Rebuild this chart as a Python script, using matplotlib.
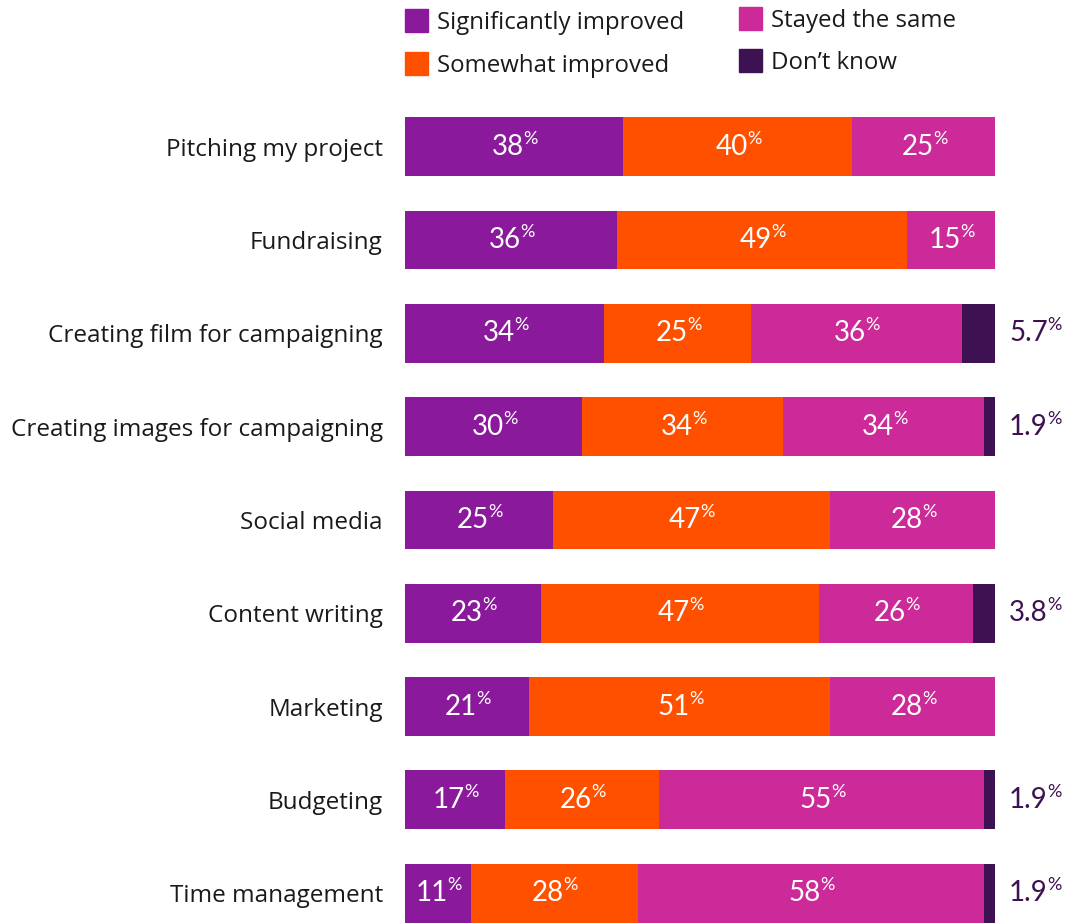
import numpy as np
import matplotlib
matplotlib.use("Agg")
import matplotlib.pyplot as plt
from matplotlib.patches import Rectangle

plt.rcParams['font.family'] = ['Lato', 'DejaVu Sans']
label_font = ['Open Sans', 'DejaVu Sans']

# data, top to bottom
categories = ["Pitching my project", "Fundraising", "Creating film for campaigning",
              "Creating images for campaigning", "Social media", "Content writing",
              "Marketing", "Budgeting", "Time management"]
significantly = [38, 36, 34, 30, 25, 23, 21, 17, 11]
somewhat = [40, 49, 25, 34, 47, 47, 51, 26, 28]
same = [25, 15, 36, 34, 28, 26, 28, 55, 58]
dont_know = [0, 0, 5.7, 1.9, 0, 3.8, 0, 1.9, 1.9]

series_names = ["Significantly improved", "Somewhat improved", "Stayed the same", "Don\u2019t know"]
colors = ["#8A1A9B", "#FF5000", "#CC2A98", "#3E1152"]
text_dark = "#1a1a1a"

fig = plt.figure(figsize=(10.71, 9.23), dpi=100)
ax = fig.add_axes([405 / 1071, 0, 590 / 1071, 823 / 923])

vals = np.array([significantly, somewhat, same, dont_know], dtype=float)
shares = vals / vals.sum(axis=0) * 100
y = np.arange(len(categories))
left = np.zeros(len(categories))


def pct_label(x, yy, num, color, ha="center", size=20):
    t = ax.text(x, yy, num, ha=ha, va="center", color=color, fontsize=size)
    ax.annotate("%", xy=(1, 1), xycoords=t, xytext=(-0.5, 2), textcoords="offset points",
                ha="left", va="top", color=color, fontsize=size * 0.65)
    return t


for k in range(4):
    ax.barh(y, shares[k], left=left, height=0.63, color=colors[k], edgecolor="none")
    if k < 3:
        for i in range(len(categories)):
            cx = left[i] + shares[k][i] / 2 - 1.0
            pct_label(cx, y[i], "%d" % vals[k][i], "white")
    left += shares[k]

for i in range(len(categories)):
    if dont_know[i] > 0:
        pct_label(102.4, y[i], "%.1f" % dont_know[i], colors[3], ha="left")

ax.set_xlim(0, 100)
ax.set_ylim(8.32, -0.5)
ax.set_yticks(y)
ax.set_yticklabels(categories, fontsize=17.5, color=text_dark, family=label_font)
ax.tick_params(axis="y", length=0, pad=16)
ax.set_xticks([])
for s in ax.spines.values():
    s.set_visible(False)

# legend drawn by hand
W, H = 1071, 923
legend_pos = [(405, 9), (405, 52), (739, 7), (739, 49)]
for (px, py), name, c in zip(legend_pos, series_names, colors):
    fig.patches.append(Rectangle((px / W, 1 - (py + 23) / H), 23 / W, 23 / H,
                                 transform=fig.transFigure, color=c))
    fig.text((px + 32) / W, 1 - (py + 14) / H, name, ha="left", va="center",
             fontsize=17.3, color=text_dark, family=label_font)

fig.savefig("out.png", dpi=100)
